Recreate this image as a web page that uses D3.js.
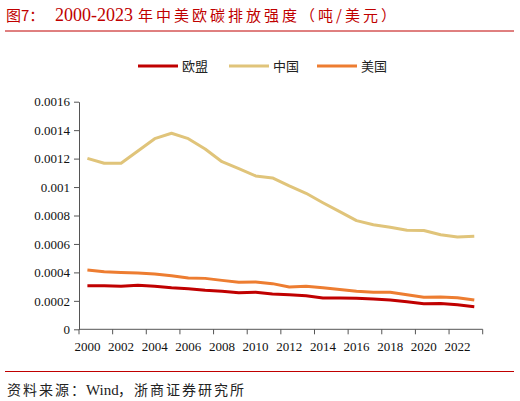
<!DOCTYPE html>
<html><head><meta charset="utf-8">
<script src="https://cdn.jsdelivr.net/npm/d3@7"></script>
<style>
html,body{margin:0;padding:0;background:#fff;}
svg{display:block;}
</style></head>
<body>
<svg id="c" width="520" height="401"></svg>
<script>
const years = d3.range(2000, 2024);
const eu = [0.000307,0.000307,0.000302,0.000309,0.000302,0.000292,0.000285,0.000274,0.000267,0.000257,0.000260,0.000248,0.000243,0.000236,0.000220,0.000220,0.000218,0.000213,0.000206,0.000194,0.000180,0.000182,0.000173,0.000159];
const china = [0.001202,0.001167,0.001167,0.001253,0.001340,0.001378,0.001340,0.001267,0.001178,0.001129,0.001078,0.001064,0.001008,0.000956,0.000890,0.000827,0.000764,0.000735,0.000717,0.000696,0.000694,0.000665,0.000649,0.000654];
const usa = [0.000417,0.000405,0.000400,0.000396,0.000389,0.000377,0.000361,0.000358,0.000344,0.000330,0.000333,0.000321,0.000297,0.000302,0.000292,0.000279,0.000267,0.000260,0.000260,0.000243,0.000225,0.000227,0.000222,0.000206];
const yTicks = [0,0.0002,0.0004,0.0006,0.0008,0.001,0.0012,0.0014,0.0016];
const yTickLabels = ["0","0.0002","0.0004","0.0006","0.0008","0.001","0.0012","0.0014","0.0016"];
const seriesNames = ["欧盟","中国","美国"];
const seriesColors = ["#C00000","#E0C47A","#ED7D31"];
const seriesData = [eu, china, usa];

const svg = d3.select("#c");
const serif = "'Liberation Serif','DejaVu Serif',serif";
const cjk = "'Noto Sans CJK SC','Noto Sans',sans-serif";

// title
const t = svg.append("text").attr("x",6).attr("y",21).attr("fill","#C00000").attr("font-size",15);
t.append("tspan").attr("font-family",cjk).text("图7：");
t.append("tspan").attr("x",55).attr("font-family",serif).attr("font-size",18).text("2000-2023");
t.append("tspan").attr("x",138).attr("font-family",cjk).attr("letter-spacing",3).text("年中美欧碳排放强度（吨/美元）");
svg.append("line").attr("x1",5).attr("x2",514).attr("y1",31).attr("y2",31).attr("stroke","#C00000").attr("stroke-width",1);

// legend
const legX = [138,229,317];
seriesNames.forEach((n,i)=>{
  svg.append("line").attr("x1",legX[i]).attr("x2",legX[i]+40).attr("y1",66).attr("y2",66)
    .attr("stroke",seriesColors[i]).attr("stroke-width",3);
  svg.append("text").attr("x",legX[i]+44).attr("y",71).attr("font-family",cjk).attr("font-size",13)
    .attr("fill","#222").text(n);
});

// scales
const x = d3.scaleBand().domain(years).range([79,482.7]);
const y = d3.scaleLinear().domain([0,0.0016]).range([329.3,101.7]);

// y axis
const yAxis = d3.axisLeft(y).tickValues(yTicks).tickFormat((d,i)=>yTickLabels[i]).tickSize(5).tickSizeOuter(0);
const gy = svg.append("g").attr("transform","translate(79,0)").call(yAxis);
gy.select(".domain").attr("stroke","#555");
gy.selectAll(".tick line").attr("stroke","#555");
gy.selectAll("text").attr("font-family",serif).attr("font-size",13).attr("fill","#111").attr("x",-9);

// x axis
const gx = svg.append("g").attr("transform","translate(0,329.3)");
gx.append("line").attr("x1",79).attr("x2",482.7).attr("stroke","#555");
const bw = x.bandwidth();
const tickPos = d3.range(0,25,2).map(i=>79+i*bw);
gx.selectAll("line.t").data(tickPos).enter().append("line").attr("class","t")
  .attr("x1",d=>d).attr("x2",d=>d).attr("y1",0).attr("y2",5).attr("stroke","#555");
gx.selectAll("text").data(years.filter(d=>d%2===0)).enter().append("text")
  .attr("x",d=>x(d)+bw/2).attr("y",22).attr("text-anchor","middle")
  .attr("font-family",serif).attr("font-size",13).attr("fill","#111").text(d=>d);

// lines
const line = d3.line().x((d,i)=>x(years[i])+bw/2).y(d=>y(d));
[1,2,0].forEach(i=>{
  svg.append("path").attr("d",line(seriesData[i])).attr("fill","none")
    .attr("stroke",seriesColors[i]).attr("stroke-width",3).attr("stroke-linejoin","round");
});

// footer
svg.append("line").attr("x1",5).attr("x2",514).attr("y1",371.5).attr("y2",371.5).attr("stroke","#C00000").attr("stroke-width",1);
const f = svg.append("text").attr("x",7).attr("y",395).attr("fill","#222").attr("font-size",14);
f.append("tspan").attr("font-family",cjk).attr("letter-spacing",2).text("资料来源：");
f.append("tspan").attr("x",86).attr("font-family",serif).attr("font-size",15).text("Wind");
f.append("tspan").attr("x",118).attr("font-family",cjk).attr("letter-spacing",2).text("，浙商证券研究所");
</script>
</body></html>
